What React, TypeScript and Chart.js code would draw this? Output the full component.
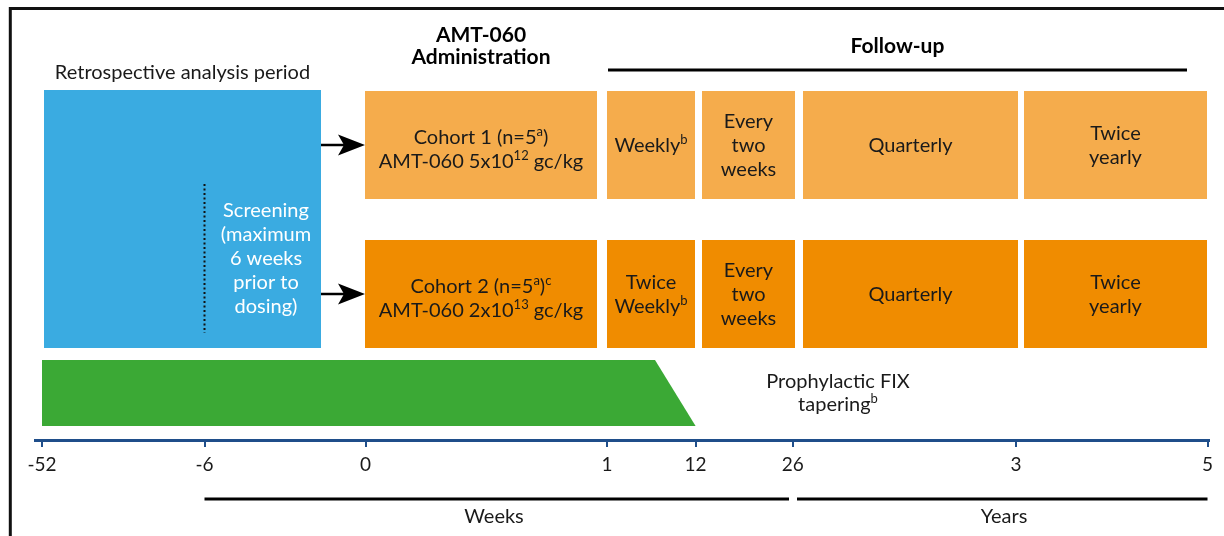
import React, { useEffect, useRef } from 'react';
import { Chart, registerables } from 'chart.js';

Chart.register(...registerables);

type Seg = { t: string; sup?: boolean };

const FONT = 'Lato, "Noto Sans", sans-serif';
const TEXT = '#1a1a1a';
const AXIS = '#1F4E8A';
const BODY_SIZE = 20;
const HEAD_SIZE = 21;

// ---- Axis (schematic timeline positions of each tick) ----
const tickLabels = ['-52', '-6', '0', '1', '12', '26', '3', '5'];
const tickPositions = [0, 162.5, 323.5, 565, 653.6, 750.8, 974, 1165.5];
const axisMin = -7;
const axisMax = 1167;

// ---- Phases (columns) ----
const phaseNames = ['AMT-060 Administration', 'Weekly', 'Every two weeks', 'Quarterly', 'Twice yearly'];
const phaseStart = [323, 565, 660, 761, 982];
const phaseEnd = [555, 653, 753, 976, 1165];

// ---- Cohort rows ----
const cohortNames = ['Cohort 1', 'Cohort 2'];
const rowTop = [91, 240];
const rowBottom = [199, 348];
const rowColors = ['#F5AC4C', '#F08C00'];

const cohort1Labels: Seg[][][] = [
  [[{ t: 'Cohort 1 (n=5' }, { t: 'a', sup: true }, { t: ')' }], [{ t: 'AMT-060 5x10' }, { t: '12', sup: true }, { t: ' gc/kg' }]],
  [[{ t: 'Weekly' }, { t: 'b', sup: true }]],
  [[{ t: 'Every' }], [{ t: 'two' }], [{ t: 'weeks' }]],
  [[{ t: 'Quarterly' }]],
  [[{ t: 'Twice' }], [{ t: 'yearly' }]],
];
const cohort2Labels: Seg[][][] = [
  [[{ t: 'Cohort 2 (n=5' }, { t: 'a', sup: true }, { t: ')' }, { t: 'c', sup: true }], [{ t: 'AMT-060 2x10' }, { t: '13', sup: true }, { t: ' gc/kg' }]],
  [[{ t: 'Twice' }], [{ t: 'Weekly' }, { t: 'b', sup: true }]],
  [[{ t: 'Every' }], [{ t: 'two' }], [{ t: 'weeks' }]],
  [[{ t: 'Quarterly' }]],
  [[{ t: 'Twice' }], [{ t: 'yearly' }]],
];
const rowLabels = [cohort1Labels, cohort2Labels];

// ---- Retrospective / screening block ----
const retroSpan = [2, 279];
const retroBand = [90, 348];
const screeningMarker = [184, 333];
const screeningLines = ['Screening', '(maximum', '6 weeks', 'prior to', 'dosing)'];

// ---- Prophylactic FIX tapering ----
const fixTopEnd = 613;
const fixBand = [360, 426];

// ---- Lower period brackets ----
const weeksSpan = [162.5, 747];
const yearsSpan = [755, 1165.5];

function drawRich(ctx: CanvasRenderingContext2D, lines: Seg[][], cx: number, base0: number, lh: number, size: number, weight: string, color: string) {
  const main = `${weight} ${size}px ${FONT}`;
  const sup = `${weight} ${Math.round(size * 0.66)}px ${FONT}`;
  ctx.fillStyle = color;
  ctx.textAlign = 'left';
  ctx.textBaseline = 'alphabetic';
  lines.forEach((segs, i) => {
    const y = base0 + i * lh;
    let w = 0;
    segs.forEach((s) => {
      ctx.font = s.sup ? sup : main;
      w += ctx.measureText(s.t).width;
    });
    let x = cx - w / 2;
    segs.forEach((s) => {
      ctx.font = s.sup ? sup : main;
      ctx.fillText(s.t, x, s.sup ? y - size * 0.4 : y);
      x += ctx.measureText(s.t).width;
    });
  });
}

const diagramPlugin = {
  id: 'diagram',
  afterDraw(chart: any) {
    const ctx: CanvasRenderingContext2D = chart.ctx;
    const xs = chart.scales.x;
    const ys = chart.scales.y;
    const X = (v: number) => xs.getPixelForValue(v);
    const Y = (v: number) => ys.getPixelForValue(v);
    ctx.save();

    // frame
    ctx.strokeStyle = '#111';
    ctx.lineWidth = 3;
    ctx.beginPath();
    ctx.moveTo(X(-33), Y(8.5));
    ctx.lineTo(chart.width, Y(8.5));
    ctx.moveTo(X(-31.7), Y(7));
    ctx.lineTo(X(-31.7), chart.height);
    ctx.stroke();

    // headers
    drawRich(ctx, [[{ t: 'Retrospective analysis period' }]], X((retroSpan[0] + retroSpan[1]) / 2), Y(79), 24, BODY_SIZE, 'normal', TEXT);
    const admX = X((phaseStart[0] + phaseEnd[0]) / 2);
    drawRich(ctx, [[{ t: 'AMT-060' }], [{ t: 'Administration' }]], admX, Y(42), 22, HEAD_SIZE, 'bold', '#000');
    const fuL = X(phaseStart[1] + 1);
    const fuR = X(1145);
    drawRich(ctx, [[{ t: 'Follow-up' }]], (fuL + fuR) / 2, Y(53), 24, HEAD_SIZE, 'bold', '#000');
    ctx.strokeStyle = '#000';
    ctx.lineWidth = 3;
    ctx.beginPath();
    ctx.moveTo(fuL, Y(70));
    ctx.lineTo(fuR, Y(70));
    ctx.stroke();

    // retrospective block
    ctx.fillStyle = '#3AABE1';
    ctx.fillRect(X(retroSpan[0]), Y(retroBand[0]), X(retroSpan[1]) - X(retroSpan[0]), Y(retroBand[1]) - Y(retroBand[0]));
    ctx.strokeStyle = '#111';
    ctx.lineWidth = 2;
    ctx.setLineDash([2, 2.5]);
    ctx.beginPath();
    ctx.moveTo(X(tickPositions[1]), Y(screeningMarker[0]));
    ctx.lineTo(X(tickPositions[1]), Y(screeningMarker[1]));
    ctx.stroke();
    ctx.setLineDash([]);
    drawRich(ctx, screeningLines.map((t) => [{ t }]), X(224), Y(217), 24, BODY_SIZE, 'normal', '#fff');

    // cohort rows
    cohortNames.forEach((_, r) => {
      const top = Y(rowTop[r]);
      const bot = Y(rowBottom[r]);
      const mid = (top + bot) / 2;
      // arrow
      ctx.strokeStyle = '#000';
      ctx.fillStyle = '#000';
      ctx.lineWidth = 2.5;
      const ax0 = X(retroSpan[1]);
      const tip = X(phaseStart[0]);
      ctx.beginPath();
      ctx.moveTo(ax0, mid);
      ctx.lineTo(tip - 20, mid);
      ctx.stroke();
      ctx.beginPath();
      ctx.moveTo(tip, mid);
      ctx.lineTo(tip - 27, mid - 10.5);
      ctx.lineTo(tip - 21, mid);
      ctx.lineTo(tip - 27, mid + 10.5);
      ctx.closePath();
      ctx.fill();

      phaseNames.forEach((_, p) => {
        const x0 = X(phaseStart[p]);
        const x1 = X(phaseEnd[p]);
        ctx.fillStyle = rowColors[r];
        ctx.fillRect(x0, top, x1 - x0, bot - top);
        const lines = rowLabels[r][p];
        const n = lines.length;
        const lh = 24;
        const off = p === 0 ? 11 : 7;
        const base0 = mid + off - ((n - 1) * lh) / 2;
        drawRich(ctx, lines, (x0 + x1) / 2, base0, lh, BODY_SIZE, 'normal', TEXT);
      });
    });

    // prophylactic FIX tapering
    ctx.fillStyle = '#3BA935';
    ctx.beginPath();
    ctx.moveTo(X(tickPositions[0]), Y(fixBand[0]));
    ctx.lineTo(X(fixTopEnd), Y(fixBand[0]));
    ctx.lineTo(X(tickPositions[4]), Y(fixBand[1]));
    ctx.lineTo(X(tickPositions[0]), Y(fixBand[1]));
    ctx.closePath();
    ctx.fill();
    drawRich(ctx, [[{ t: 'Prophylactic FIX' }], [{ t: 'tapering' }, { t: 'b', sup: true }]], X(796), Y(388), 23, BODY_SIZE, 'normal', TEXT);

    // lower brackets
    ctx.strokeStyle = '#000';
    ctx.lineWidth = 3;
    ctx.beginPath();
    ctx.moveTo(X(weeksSpan[0]), Y(499));
    ctx.lineTo(X(weeksSpan[1]), Y(499));
    ctx.moveTo(X(yearsSpan[0]), Y(499));
    ctx.lineTo(X(yearsSpan[1]), Y(499));
    ctx.stroke();
    drawRich(ctx, [[{ t: 'Weeks' }]], X(452), Y(523), 24, BODY_SIZE, 'normal', TEXT);
    drawRich(ctx, [[{ t: 'Years' }]], X(962), Y(523), 24, BODY_SIZE, 'normal', TEXT);

    ctx.restore();
  },
};

export default function App() {
  const ref = useRef<HTMLCanvasElement>(null);
  useEffect(() => {
    document.body.style.margin = '0';
    const canvas = ref.current!;
    const chart = new Chart(canvas, {
      type: 'scatter',
      data: { datasets: [] },
      options: {
        responsive: false,
        animation: false,
        devicePixelRatio: 1,
        layout: { padding: { left: 35, right: 15, top: 0, bottom: 56 } },
        plugins: { legend: { display: false }, tooltip: { enabled: false }, title: { display: false } },
        scales: {
          x: {
            type: 'linear',
            position: 'bottom',
            min: axisMin,
            max: axisMax,
            afterBuildTicks: (s: any) => {
              s.ticks = tickPositions.map((v) => ({ value: v }));
            },
            afterFit: (s: any) => {
              s.height = 40;
            },
            grid: { display: true, drawOnChartArea: false, drawTicks: true, tickLength: 7, color: AXIS, lineWidth: 2 },
            border: { display: true, color: AXIS, width: 3 },
            ticks: {
              padding: 6,
              color: TEXT,
              autoSkip: false,
              maxRotation: 0,
              font: { family: FONT, size: 19 },
              callback: (_v: any, i: number) => tickLabels[i],
            },
          },
          y: { type: 'linear', display: false, min: 0, max: 440, reverse: true },
        },
      } as any,
      plugins: [diagramPlugin],
    });
    return () => chart.destroy();
  }, []);
  return (
    <div style={{ width: 1224, height: 536 }}>
      <canvas ref={ref} width={1224} height={536} style={{ display: 'block' }} />
    </div>
  );
}
